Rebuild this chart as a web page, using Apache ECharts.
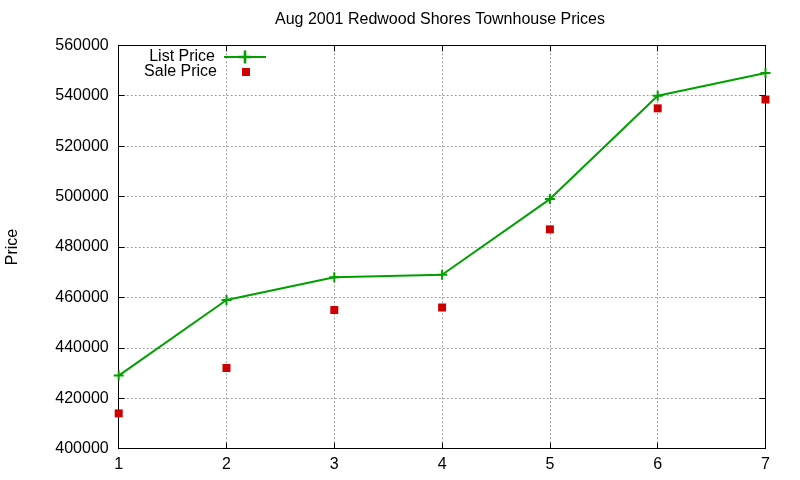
<!DOCTYPE html>
<html>
<head>
<meta charset="utf-8">
<script src="https://cdn.jsdelivr.net/npm/echarts@6/dist/echarts.min.js"></script>
<style>html,body{margin:0;padding:0;background:#fff}#c{width:800px;height:480px}</style>
</head>
<body>
<div id="c"></div>
<script>
const xValues = [1, 2, 3, 4, 5, 6, 7];
const listPrice = [429000, 459000, 468000, 469000, 499000, 540000, 549000];
const salePrice = [414000, 432000, 455000, 456000, 487000, 535000, 538500];
const titleText = 'Aug 2001 Redwood Shores Townhouse Prices';

const FONT = 'Liberation Sans, Arial, sans-serif';
const chart = echarts.init(document.getElementById('c'));
const plus = 'path://M4,0H6V4H10V6H6V10H4V6H0V4H4Z';
const gridLine = {show: true, lineStyle: {color: '#a0a0a0', type: [2, 2], width: 1}};
const mirror = {
  axisLine: {show: true, lineStyle: {color: '#000', width: 1}},
  axisTick: {show: true, inside: true, length: 6, lineStyle: {color: '#000'}},
  axisLabel: {show: false},
  splitLine: {show: false}
};
chart.setOption({
  animation: false,
  backgroundColor: '#fff',
  textStyle: {fontFamily: FONT},
  title: {
    text: titleText, left: 275, top: 12, padding: 0,
    textStyle: {fontFamily: FONT, fontSize: 16, fontWeight: 'normal', color: '#000'}
  },
  legend: [
    {
      data: ['List Price'], right: 533, top: 49, orient: 'vertical', align: 'right', padding: 0,
      itemWidth: 42, itemHeight: 16, selectedMode: false,
      textStyle: {fontFamily: FONT, fontSize: 16, color: '#000', padding: [0, 4, 0, 0]}
    },
    {
      data: [{name: 'Sale Price', icon: 'rect'}], right: 550, top: 64, orient: 'vertical', align: 'right', padding: 0,
      itemWidth: 8, itemHeight: 8, selectedMode: false,
      itemStyle: {opacity: 1},
      textStyle: {fontFamily: FONT, fontSize: 16, color: '#000', padding: [0, 20, 0, 0]}
    }
  ],
  grid: {left: 118.7, right: 34.5, top: 45.3, bottom: 31.3, containLabel: false, outerBoundsMode: 'none'},
  xAxis: [
    {
      type: 'value', min: 1, max: 7, interval: 1, position: 'bottom',
      axisLine: {show: true, lineStyle: {color: '#000', width: 1}},
      axisTick: {show: true, inside: true, length: 6, lineStyle: {color: '#000'}},
      axisLabel: {fontFamily: FONT, fontSize: 16, color: '#000', margin: 8},
      splitLine: gridLine
    },
    Object.assign({type: 'value', min: 1, max: 7, interval: 1, position: 'top'}, mirror)
  ],
  yAxis: [
    {
      type: 'value', min: 400000, max: 560000, interval: 20000, position: 'left',
      name: 'Price', nameLocation: 'middle', nameGap: 98, nameRotate: 90,
      nameTextStyle: {fontFamily: FONT, fontSize: 16, color: '#000'},
      axisLine: {show: true, lineStyle: {color: '#000', width: 1}},
      axisTick: {show: true, inside: true, length: 6, lineStyle: {color: '#000'}},
      axisLabel: {fontFamily: FONT, fontSize: 16, color: '#000', margin: 10, formatter: v => String(v)},
      splitLine: gridLine
    },
    Object.assign({type: 'value', min: 400000, max: 560000, interval: 20000, position: 'right'}, mirror)
  ],
  series: [
    {
      name: 'List Price', type: 'line', xAxisIndex: 0, yAxisIndex: 0,
      data: xValues.map((x, i) => [x, listPrice[i]]),
      symbol: plus, symbolSize: 10,
      lineStyle: {color: '#00a000', width: 2},
      itemStyle: {color: '#00a000'},
      clip: false, z: 3
    },
    {
      name: 'Sale Price', type: 'scatter', xAxisIndex: 0, yAxisIndex: 0,
      data: xValues.map((x, i) => [x, salePrice[i]]),
      symbol: 'rect', symbolSize: 8,
      itemStyle: {color: '#cc0000', opacity: 1},
      clip: false, z: 4
    }
  ]
});
</script>
</body>
</html>
